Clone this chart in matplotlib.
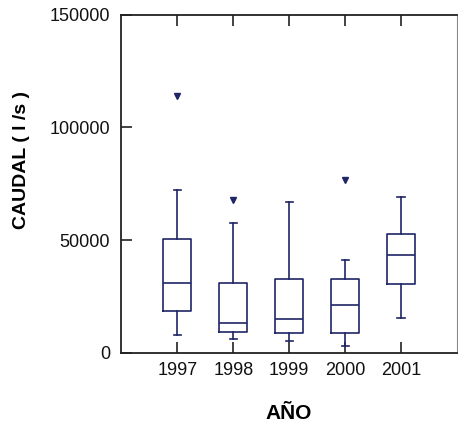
import matplotlib
matplotlib.use("Agg")
import matplotlib.pyplot as plt

plt.rcParams['font.family'] = ['Liberation Sans', 'DejaVu Sans']

years = [1997, 1998, 1999, 2000, 2001]
whislo = [7700, 6100, 5300, 3000, 15500]
q1 = [18500, 9200, 8600, 8600, 30350]
medians = [31070, 13300, 14800, 21200, 43500]
q3 = [50450, 31070, 32700, 32700, 52700]
whishi = [72200, 57700, 66900, 41100, 69000]
fliers = [[113900], [68000], [], [76600], []]
yticks = [0, 50000, 100000, 150000]

navy = '#1f2566'

stats = []
for i in range(len(years)):
    stats.append(dict(med=medians[i], q1=q1[i], q3=q3[i],
                      whislo=whislo[i], whishi=whishi[i], fliers=fliers[i]))

fig = plt.figure(figsize=(4.58, 4.24), dpi=100)
ax = fig.add_axes([0.265, 0.168, 0.733, 0.797])

lp = dict(color=navy, linewidth=1.2)
ax.bxp(stats, positions=years, widths=0.5, capwidths=0.13,
       boxprops=lp, whiskerprops=lp, capprops=lp, medianprops=lp,
       flierprops=dict(marker='v', markerfacecolor=navy, markeredgecolor=navy,
                       markersize=4.5, linestyle='none'),
       manage_ticks=False)

ax.set_xlim(1996, 2002)
ax.set_ylim(0, 150000)
ax.set_xticks(years)
ax.set_xticklabels([str(y) for y in years])
ax.set_yticks(yticks)
ax.set_yticklabels([str(v) for v in yticks])

ax.tick_params(axis='x', direction='in', length=8, width=1.2, top=True, bottom=True,
               labelsize=13, pad=7, color='#222222', labelcolor='#111111')
ax.tick_params(axis='y', direction='in', length=8, width=1.2, left=True, right=False,
               labelsize=13, pad=8, color='#222222', labelcolor='#111111')

for s in ['left', 'bottom', 'top']:
    ax.spines[s].set_color('#222222')
    ax.spines[s].set_linewidth(1.3)
ax.spines['right'].set_color('#888888')
ax.spines['right'].set_linewidth(0.8)

ax.set_ylabel('CAUDAL ( l /s )', fontsize=14, fontweight='bold', va='center')
ax.yaxis.set_label_coords(-0.296, 0.57)
ax.set_xlabel('AÑO', fontsize=15, fontweight='bold', va='center')
ax.xaxis.set_label_coords(0.497, -0.181)

fig.savefig('out.png', dpi=100, facecolor='white')
